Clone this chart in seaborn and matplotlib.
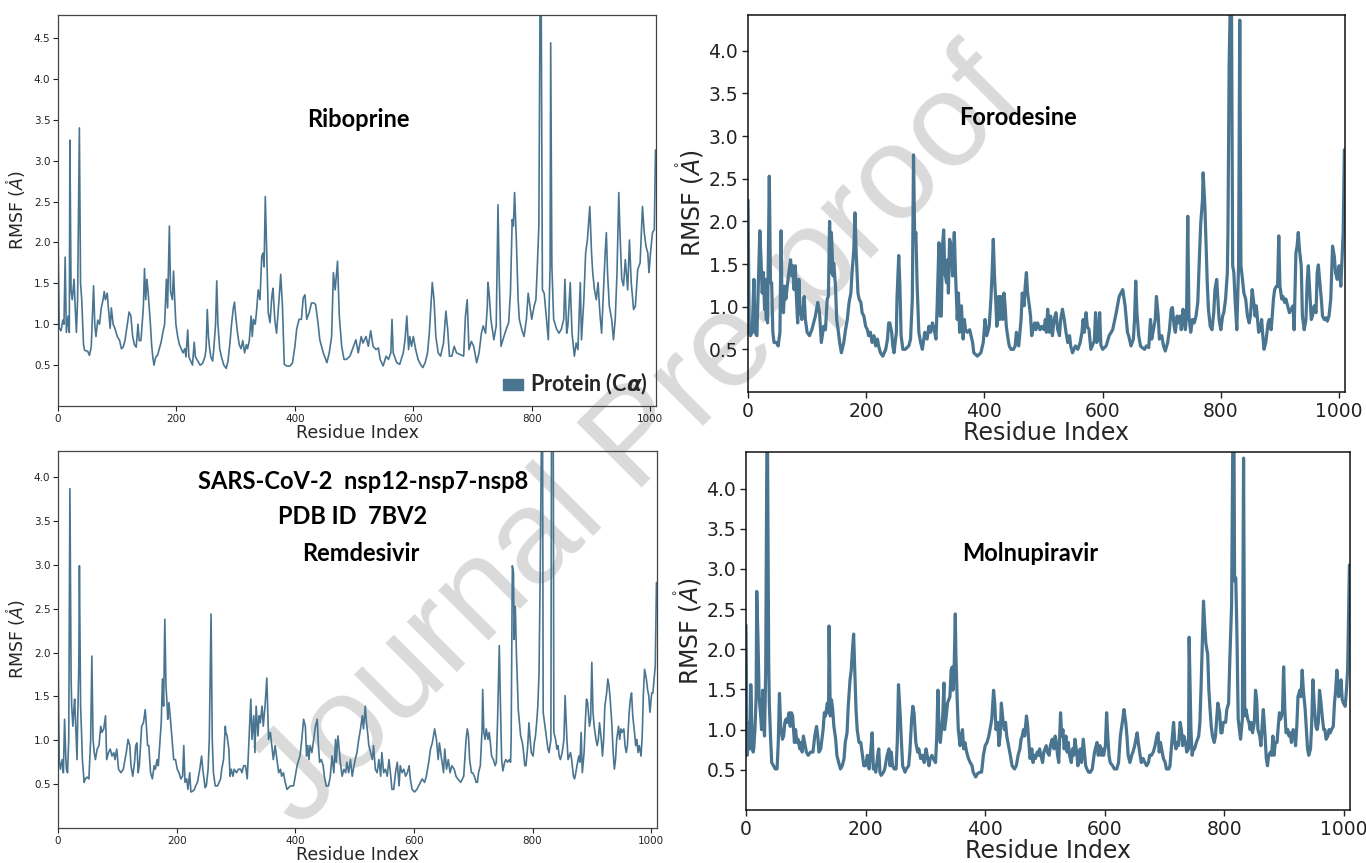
import matplotlib
matplotlib.use("Agg")
import matplotlib.pyplot as plt
import seaborn as sns
import pandas as pd
from matplotlib.patches import Patch

# Per-residue C-alpha RMSF (Angstrom) of nsp12-nsp7-nsp8 with four ligands: (residue, rmsf)
riboprine = [
    (0, 2.10), (2, 0.95), (5, 0.92), (8, 1.05), (10, 1.00), (12, 1.82), (14, 0.90), (17, 1.10),
    (19, 0.90), (20, 3.25), (22, 1.40), (24, 1.30), (27, 1.55), (29, 1.20), (31, 0.90), (33, 1.30),
    (36, 3.40), (38, 1.50), (40, 1.30), (43, 0.75), (45, 0.68), (50, 0.67), (53, 0.62), (56, 0.72),
    (60, 1.47), (62, 1.00), (64, 0.85), (67, 1.05), (70, 1.00), (73, 1.20), (76, 1.30), (78, 1.40),
    (80, 1.30), (83, 1.38), (85, 1.20), (88, 0.95), (90, 1.20), (93, 1.00), (96, 0.95), (100, 0.85),
    (104, 0.80), (107, 0.70), (110, 0.72), (113, 0.80), (116, 0.95), (120, 1.15), (123, 1.10),
    (126, 0.85), (129, 0.75), (132, 0.72), (135, 1.00), (137, 0.80), (140, 0.80), (144, 1.20),
    (146, 1.68), (148, 1.30), (150, 1.55), (152, 1.40), (154, 1.20), (156, 1.00), (158, 0.75),
    (160, 0.60), (162, 0.50), (165, 0.60), (168, 0.62), (171, 0.70), (174, 0.78), (177, 0.90),
    (180, 1.00), (183, 1.55), (185, 1.20), (188, 2.20), (190, 1.40), (193, 1.30), (195, 1.65),
    (197, 1.30), (199, 1.00), (202, 0.85), (205, 0.75), (208, 0.70), (211, 0.65), (214, 0.70),
    (216, 0.60), (219, 0.93), (221, 0.60), (224, 0.55), (227, 0.50), (230, 0.78), (232, 0.60),
    (236, 0.55), (240, 0.50), (244, 0.52), (248, 0.60), (250, 0.70), (252, 1.18), (254, 0.85),
    (256, 0.70), (258, 0.60), (261, 0.55), (263, 0.70), (266, 1.00), (268, 1.53), (270, 1.00),
    (273, 0.70), (276, 0.60), (280, 0.50), (284, 0.46), (287, 0.55), (290, 0.75), (293, 1.00),
    (296, 1.20), (298, 1.27), (300, 1.10), (303, 0.90), (306, 0.75), (309, 0.70), (312, 0.80),
    (315, 0.65), (318, 0.75), (320, 0.70), (323, 0.80), (326, 1.10), (328, 0.85), (330, 1.06),
    (333, 1.00), (335, 1.14), (338, 1.42), (341, 1.30), (344, 1.83), (346, 1.87), (348, 1.70),
    (350, 2.56), (355, 1.14), (358, 1.02), (361, 1.34), (363, 1.44), (366, 1.06), (369, 0.89),
    (374, 1.38), (376, 1.61), (379, 1.22), (382, 0.51), (386, 0.49), (392, 0.49), (396, 0.53),
    (400, 0.73), (403, 0.94), (407, 1.06), (411, 1.06), (414, 1.32), (417, 1.36), (420, 1.06),
    (424, 1.14), (428, 1.26), (432, 1.26), (435, 1.24), (439, 1.02), (442, 0.81), (448, 0.65),
    (454, 0.53), (458, 0.65), (462, 0.85), (465, 1.63), (468, 1.42), (472, 1.77), (475, 1.10),
    (479, 0.73), (483, 0.57), (487, 0.57), (493, 0.61), (499, 0.73), (503, 0.81), (507, 0.65),
    (512, 0.85), (515, 0.77), (520, 0.85), (524, 0.73), (528, 0.92), (532, 0.73), (537, 0.69),
    (541, 0.71), (544, 0.57), (549, 0.49), (554, 0.61), (558, 0.57), (562, 0.65), (564, 1.06),
    (566, 0.65), (572, 0.53), (577, 0.51), (583, 0.65), (586, 0.81), (589, 1.10), (592, 0.69),
    (594, 0.85), (597, 0.73), (600, 0.85), (604, 0.69), (608, 0.57), (612, 0.51), (616, 0.47),
    (620, 0.53), (624, 0.65), (627, 0.89), (632, 1.51), (635, 1.30), (638, 0.85), (642, 0.65),
    (646, 0.61), (651, 0.77), (655, 1.16), (658, 0.94), (661, 0.61), (665, 0.61), (669, 0.73),
    (673, 0.65), (679, 0.63), (685, 0.61), (688, 1.10), (691, 1.30), (694, 0.69), (698, 0.79),
    (702, 0.73), (707, 0.53), (711, 0.65), (715, 0.89), (718, 0.98), (722, 0.89), (725, 1.22),
    (726, 1.51), (728, 1.38), (731, 1.06), (736, 0.81), (740, 0.98), (743, 2.46), (745, 1.59),
    (748, 0.73), (753, 0.85), (757, 0.94), (761, 1.02), (764, 1.38), (767, 2.28), (769, 2.20),
    (771, 2.61), (774, 2.03), (777, 1.30), (779, 1.06), (783, 0.94), (787, 0.85), (791, 1.06),
    (794, 1.38), (797, 1.22), (800, 1.06), (804, 1.22), (807, 1.30), (809, 1.63), (812, 2.20),
    (814, 4.90), (816, 4.90), (818, 1.42), (821, 1.38), (824, 1.14), (828, 0.81), (831, 1.71),
    (832, 4.44), (834, 1.71), (837, 1.06), (842, 0.94), (846, 0.89), (850, 0.94), (854, 1.06),
    (856, 1.55), (859, 0.89), (861, 0.98), (865, 1.51), (868, 0.89), (872, 0.61), (875, 0.77),
    (878, 0.69), (882, 1.51), (884, 0.81), (888, 1.30), (891, 1.87), (894, 2.03), (898, 2.44),
    (901, 1.87), (903, 1.63), (906, 1.42), (909, 1.30), (912, 1.51), (915, 1.14), (918, 0.89),
    (921, 1.38), (924, 1.87), (926, 2.12), (928, 1.63), (931, 1.22), (935, 1.06), (938, 0.81),
    (941, 1.06), (944, 1.63), (947, 2.61), (949, 2.12), (952, 1.55), (955, 1.47), (958, 1.79),
    (962, 1.42), (965, 2.03), (968, 1.51), (972, 1.18), (975, 1.22), (979, 1.67), (983, 1.75),
    (987, 2.44), (990, 2.12), (993, 1.95), (996, 1.87), (998, 1.63), (1001, 1.91), (1004, 2.12),
    (1007, 2.16), (1009, 3.13),
]

forodesine = [
    (0, 2.25), (2, 0.70), (4, 0.66), (7, 0.70), (10, 1.32), (12, 0.70), (15, 0.66), (17, 1.16),
    (20, 1.89), (22, 1.55), (24, 1.16), (26, 1.40), (28, 0.97), (29, 1.32), (31, 0.85), (32, 1.32),
    (33, 0.81), (36, 2.53), (38, 1.28), (40, 1.28), (42, 0.70), (44, 0.58), (48, 0.58), (51, 0.54),
    (54, 0.70), (56, 1.89), (57, 1.28), (60, 0.93), (62, 1.24), (64, 1.09), (67, 1.28), (69, 1.40),
    (72, 1.55), (74, 1.36), (76, 1.48), (78, 1.20), (80, 1.48), (82, 1.09), (84, 0.81), (86, 1.32),
    (88, 1.01), (91, 0.85), (93, 0.93), (95, 1.12), (97, 0.85), (100, 0.70), (104, 0.66), (108, 0.73),
    (114, 0.89), (118, 1.05), (121, 0.93), (124, 0.58), (128, 0.77), (131, 0.73), (134, 1.09),
    (136, 1.12), (138, 2.00), (140, 1.40), (141, 1.87), (144, 1.36), (145, 1.51), (148, 1.24),
    (150, 0.85), (153, 0.70), (155, 0.58), (158, 0.46), (162, 0.58), (165, 0.73), (168, 0.85),
    (171, 1.05), (174, 1.16), (176, 1.40), (179, 1.67), (181, 2.10), (183, 1.63), (186, 1.16),
    (188, 1.09), (191, 1.05), (193, 0.93), (196, 0.89), (199, 0.77), (202, 0.73), (204, 0.66),
    (207, 0.70), (210, 0.58), (213, 0.66), (216, 0.54), (219, 0.62), (221, 0.54), (224, 0.46),
    (228, 0.42), (233, 0.50), (236, 0.62), (238, 0.81), (240, 0.81), (243, 0.70), (245, 0.54),
    (247, 0.46), (251, 0.70), (252, 1.09), (255, 1.60), (257, 1.24), (259, 0.66), (262, 0.50),
    (266, 0.50), (272, 0.54), (275, 0.62), (278, 1.09), (280, 2.78), (282, 1.79), (284, 1.87),
    (286, 1.28), (289, 0.70), (292, 0.58), (295, 0.50), (299, 0.70), (303, 0.62), (306, 0.77),
    (309, 0.70), (312, 0.81), (315, 0.73), (318, 0.62), (320, 1.01), (323, 1.75), (325, 0.89),
    (327, 0.89), (329, 1.71), (331, 1.90), (333, 1.40), (336, 1.28), (338, 1.55), (339, 1.16),
    (341, 1.79), (344, 1.71), (346, 1.36), (349, 1.87), (351, 1.40), (354, 0.85), (356, 1.16),
    (358, 0.70), (361, 1.01), (364, 0.62), (366, 0.85), (368, 0.73), (371, 0.70), (375, 0.73),
    (380, 0.58), (382, 0.46), (388, 0.42), (394, 0.46), (398, 0.58), (401, 0.85), (404, 0.66),
    (408, 0.77), (411, 1.09), (413, 1.40), (415, 1.79), (417, 1.36), (419, 1.09), (421, 0.77),
    (424, 1.12), (426, 0.85), (428, 1.12), (431, 0.85), (433, 1.16), (435, 1.01), (437, 0.77),
    (440, 0.62), (442, 0.54), (445, 0.50), (449, 0.50), (452, 0.54), (454, 0.70), (458, 0.54),
    (462, 0.85), (464, 1.16), (467, 1.01), (469, 1.24), (471, 1.40), (473, 1.16), (476, 1.01),
    (478, 0.89), (480, 0.66), (482, 0.73), (485, 0.81), (487, 0.73), (490, 0.81), (494, 0.73),
    (497, 0.77), (501, 0.73), (503, 0.85), (505, 0.70), (507, 0.97), (510, 0.70), (512, 0.89),
    (515, 0.66), (518, 0.85), (521, 0.93), (524, 0.73), (527, 0.66), (529, 0.85), (532, 0.97),
    (535, 0.85), (538, 0.70), (541, 0.58), (544, 0.66), (546, 0.54), (549, 0.46), (554, 0.54),
    (558, 0.50), (562, 0.58), (565, 0.70), (567, 0.85), (569, 0.70), (572, 0.93), (574, 0.77),
    (577, 0.73), (580, 0.50), (583, 0.55), (586, 0.60), (588, 0.93), (590, 0.58), (592, 0.62),
    (595, 0.93), (597, 0.55), (600, 0.50), (606, 0.54), (611, 0.66), (617, 0.73), (623, 0.93),
    (628, 1.12), (634, 1.20), (638, 1.01), (642, 0.70), (644, 0.66), (648, 0.54), (652, 0.62),
    (654, 0.85), (656, 1.30), (658, 0.93), (661, 0.66), (664, 0.54), (667, 0.52), (671, 0.50),
    (674, 0.54), (678, 0.52), (681, 0.85), (683, 0.62), (686, 0.73), (689, 0.85), (691, 1.12),
    (694, 0.89), (696, 0.62), (700, 0.66), (703, 0.54), (706, 0.48), (710, 0.58), (713, 0.73),
    (716, 0.97), (718, 0.99), (721, 0.77), (723, 0.70), (726, 0.89), (728, 0.81), (731, 0.89),
    (733, 0.73), (736, 0.97), (738, 0.81), (740, 0.73), (742, 0.91), (744, 2.06), (746, 0.89),
    (749, 0.70), (752, 0.85), (755, 0.81), (758, 0.89), (761, 1.05), (764, 1.63), (766, 1.98),
    (769, 2.26), (770, 2.57), (773, 2.18), (775, 1.71), (777, 1.28), (779, 0.97), (782, 0.77),
    (785, 0.73), (788, 0.93), (790, 1.20), (793, 1.32), (795, 1.09), (797, 0.85), (800, 0.73),
    (803, 0.89), (805, 0.93), (808, 1.09), (811, 1.40), (812, 1.87), (814, 3.82), (816, 4.60),
    (818, 4.60), (820, 1.48), (822, 1.40), (824, 1.09), (827, 0.73), (830, 1.48), (832, 4.36),
    (834, 1.48), (836, 1.36), (839, 1.16), (842, 1.09), (845, 0.89), (848, 0.81), (850, 0.89),
    (853, 1.20), (855, 1.09), (858, 0.89), (860, 1.01), (862, 0.85), (864, 0.70), (867, 0.73),
    (869, 0.85), (871, 0.66), (873, 0.50), (876, 0.58), (878, 0.70), (880, 0.81), (882, 0.85),
    (885, 0.73), (887, 0.89), (889, 1.09), (891, 1.20), (894, 1.24), (896, 1.24), (898, 1.83),
    (900, 1.24), (903, 1.09), (905, 1.12), (908, 1.05), (910, 1.09), (913, 1.01), (916, 0.93),
    (919, 0.97), (922, 1.01), (924, 0.73), (927, 1.63), (929, 1.71), (931, 1.87), (933, 1.67),
    (936, 1.48), (938, 0.89), (941, 0.73), (944, 0.85), (946, 1.28), (948, 1.48), (951, 1.09),
    (953, 0.85), (955, 0.89), (958, 1.01), (961, 0.93), (963, 1.40), (965, 1.49), (968, 1.24),
    (970, 1.09), (972, 0.89), (975, 0.85), (978, 0.87), (980, 0.83), (983, 0.89), (986, 1.09),
    (989, 1.71), (992, 1.59), (994, 1.40), (997, 1.32), (1000, 1.48), (1003, 1.24), (1004, 1.40),
    (1007, 1.87), (1009, 2.84),
]

remdesivir = [
    (0, 2.00), (2, 0.78), (4, 0.67), (7, 0.78), (9, 0.63), (11, 1.24), (13, 0.82), (14, 0.67),
    (16, 0.63), (18, 1.01), (20, 3.87), (22, 1.70), (23, 1.39), (25, 1.16), (27, 1.39), (28, 1.47),
    (30, 1.13), (32, 0.78), (33, 1.20), (35, 1.85), (36, 2.99), (38, 1.39), (40, 1.01), (41, 0.78),
    (44, 0.52), (46, 0.56), (49, 0.58), (52, 0.56), (55, 1.01), (57, 1.96), (59, 1.01), (61, 0.86),
    (63, 0.78), (66, 0.90), (69, 0.94), (72, 1.16), (74, 1.09), (77, 1.13), (80, 1.28), (82, 0.78),
    (85, 0.86), (88, 0.90), (91, 0.82), (94, 0.86), (96, 0.78), (99, 0.90), (102, 0.67), (106, 0.63),
    (110, 0.67), (115, 0.86), (118, 1.01), (121, 0.94), (123, 0.71), (126, 0.59), (129, 0.75),
    (131, 0.94), (133, 0.97), (135, 0.63), (137, 0.71), (139, 0.94), (141, 1.16), (144, 1.20),
    (147, 1.35), (149, 1.16), (151, 0.94), (153, 0.94), (156, 0.63), (159, 0.56), (162, 0.71),
    (164, 0.67), (167, 0.78), (169, 0.71), (172, 1.01), (174, 1.20), (176, 1.70), (178, 1.39),
    (180, 2.38), (182, 1.62), (184, 1.39), (185, 1.24), (187, 1.43), (190, 1.20), (193, 0.94),
    (195, 0.78), (198, 0.78), (201, 0.67), (204, 0.63), (207, 0.56), (210, 0.59), (212, 0.94),
    (214, 0.52), (217, 0.56), (219, 0.44), (222, 0.63), (224, 0.41), (227, 0.42), (230, 0.44),
    (232, 0.48), (235, 0.52), (239, 0.67), (242, 0.82), (244, 0.67), (248, 0.46), (250, 0.48),
    (253, 0.67), (255, 1.01), (258, 2.44), (260, 1.01), (262, 0.63), (265, 0.48), (269, 0.48),
    (274, 0.56), (276, 0.67), (279, 0.78), (282, 1.16), (283, 1.09), (285, 1.05), (288, 0.90),
    (290, 0.59), (292, 0.67), (295, 0.59), (297, 0.67), (301, 0.63), (304, 0.67), (308, 0.67),
    (310, 0.63), (313, 0.71), (316, 0.71), (319, 0.56), (322, 1.01), (325, 1.47), (327, 1.01),
    (330, 1.28), (332, 0.86), (334, 1.39), (337, 1.05), (339, 1.28), (341, 1.20), (344, 1.39),
    (346, 1.16), (349, 1.39), (352, 1.71), (355, 1.01), (358, 1.09), (361, 0.90), (363, 0.78),
    (366, 0.94), (369, 0.78), (372, 0.63), (375, 0.67), (377, 0.59), (380, 0.63), (383, 0.52),
    (386, 0.44), (392, 0.48), (397, 0.48), (400, 0.59), (403, 0.71), (406, 0.78), (408, 0.82),
    (411, 1.01), (414, 1.24), (417, 1.16), (419, 0.82), (421, 0.94), (423, 0.78), (425, 0.94),
    (428, 0.86), (431, 1.01), (434, 1.16), (437, 1.24), (439, 0.94), (441, 0.75), (444, 0.78),
    (447, 0.71), (449, 0.59), (452, 0.48), (456, 0.48), (459, 0.59), (462, 0.82), (465, 0.63),
    (468, 1.01), (469, 0.75), (472, 1.05), (474, 0.90), (476, 0.75), (479, 0.59), (482, 0.67),
    (485, 0.63), (487, 0.75), (490, 0.63), (493, 0.78), (496, 0.59), (499, 0.71), (501, 0.78),
    (504, 0.86), (507, 1.01), (510, 1.13), (513, 1.28), (515, 1.13), (518, 1.39), (520, 1.20),
    (522, 1.09), (524, 0.94), (527, 0.86), (530, 0.78), (532, 0.94), (535, 0.67), (538, 0.63),
    (541, 0.78), (544, 0.59), (546, 0.86), (549, 0.63), (552, 0.67), (555, 0.59), (558, 0.78),
    (561, 0.59), (563, 0.44), (566, 0.44), (569, 0.63), (572, 0.75), (575, 0.48), (577, 0.71),
    (580, 0.63), (583, 0.67), (586, 0.59), (589, 0.63), (592, 0.71), (594, 0.56), (597, 0.44),
    (601, 0.41), (605, 0.44), (608, 0.48), (611, 0.52), (614, 0.56), (618, 0.52), (621, 0.59),
    (625, 0.75), (628, 0.90), (631, 0.97), (635, 1.13), (638, 1.01), (641, 0.78), (643, 0.97),
    (646, 0.82), (650, 0.63), (652, 0.90), (655, 0.67), (658, 0.78), (661, 0.63), (664, 0.71),
    (668, 0.67), (671, 0.59), (674, 0.56), (679, 0.52), (684, 0.59), (688, 1.01), (690, 1.13),
    (692, 1.05), (694, 0.78), (697, 0.63), (699, 0.63), (702, 0.59), (705, 0.52), (707, 0.52),
    (709, 0.63), (712, 0.71), (715, 1.13), (716, 1.58), (718, 1.09), (720, 1.01), (722, 1.13),
    (725, 1.01), (727, 1.09), (729, 0.97), (731, 0.82), (734, 0.78), (737, 0.71), (739, 0.75),
    (741, 1.20), (744, 2.08), (746, 1.39), (748, 0.78), (750, 0.65), (753, 0.75), (755, 0.78),
    (758, 0.75), (761, 0.78), (763, 0.75), (764, 1.01), (766, 2.99), (768, 2.91), (769, 2.15),
    (771, 2.53), (773, 1.96), (774, 1.77), (776, 1.35), (778, 1.20), (780, 1.05), (783, 0.97),
    (785, 0.86), (787, 0.71), (789, 0.71), (792, 0.94), (794, 1.20), (796, 1.01), (798, 0.86),
    (801, 0.82), (803, 0.97), (805, 1.05), (807, 1.20), (809, 1.39), (811, 1.77), (813, 2.91),
    (815, 4.40), (817, 4.40), (818, 1.32), (821, 1.16), (824, 1.01), (826, 0.90), (828, 0.86),
    (831, 1.01), (832, 4.40), (835, 4.40), (836, 1.09), (839, 1.01), (841, 0.90), (843, 0.94),
    (845, 0.82), (847, 0.78), (850, 0.86), (853, 1.01), (855, 1.51), (858, 1.01), (860, 0.78),
    (862, 0.82), (864, 0.86), (866, 0.78), (869, 0.59), (871, 0.56), (873, 0.63), (875, 0.71),
    (878, 0.82), (880, 0.75), (882, 1.09), (884, 0.63), (887, 0.86), (889, 1.20), (891, 1.47),
    (893, 1.43), (896, 1.16), (898, 1.24), (900, 1.89), (902, 1.32), (904, 1.16), (907, 1.01),
    (909, 0.94), (911, 1.01), (913, 1.20), (916, 1.01), (918, 0.82), (920, 1.01), (922, 1.39),
    (925, 1.54), (927, 1.70), (929, 1.62), (931, 1.47), (934, 1.16), (936, 0.86), (938, 0.67),
    (940, 0.78), (942, 1.01), (945, 1.16), (947, 1.01), (949, 1.13), (951, 1.09), (954, 1.13),
    (956, 0.94), (958, 0.86), (960, 0.94), (963, 1.32), (965, 1.47), (967, 1.54), (969, 1.28),
    (972, 1.09), (974, 0.94), (976, 1.01), (978, 0.86), (980, 0.94), (983, 0.82), (985, 1.05),
    (987, 1.54), (989, 1.81), (992, 1.70), (994, 1.58), (996, 1.51), (998, 1.32), (1001, 1.54),
    (1003, 1.54), (1005, 1.70), (1007, 1.85), (1009, 2.80),
]

molnupiravir = [
    (0, 2.30), (2, 0.68), (3, 0.76), (5, 1.09), (7, 0.76), (8, 1.56), (10, 0.92), (12, 0.72),
    (13, 0.76), (15, 1.00), (17, 1.41), (18, 2.72), (20, 2.15), (22, 1.41), (25, 1.13), (26, 1.00),
    (28, 1.49), (30, 1.04), (31, 0.92), (33, 1.74), (35, 4.60), (36, 4.60), (38, 1.82), (39, 1.33),
    (41, 0.92), (43, 0.59), (46, 0.55), (49, 0.51), (52, 0.51), (54, 0.84), (56, 1.45), (58, 1.04),
    (61, 0.88), (63, 0.92), (65, 1.09), (67, 1.13), (69, 1.09), (72, 1.21), (74, 1.04), (76, 1.21),
    (78, 1.17), (81, 0.84), (83, 1.00), (85, 0.84), (87, 0.88), (90, 0.76), (92, 0.84), (94, 0.72),
    (96, 0.92), (99, 0.80), (101, 0.72), (104, 0.68), (108, 0.72), (112, 0.72), (115, 0.92),
    (118, 1.04), (120, 0.92), (122, 0.72), (125, 0.76), (129, 1.00), (131, 1.21), (133, 1.17),
    (136, 1.33), (138, 1.21), (139, 2.29), (141, 1.17), (143, 1.37), (145, 1.25), (147, 1.04),
    (150, 0.88), (152, 0.68), (155, 0.59), (158, 0.51), (161, 0.55), (164, 0.64), (166, 0.84),
    (169, 0.96), (171, 1.29), (174, 1.62), (176, 1.74), (178, 1.99), (180, 2.19), (182, 1.74),
    (184, 1.25), (186, 1.00), (189, 0.84), (192, 0.84), (194, 0.72), (197, 0.55), (200, 0.55),
    (203, 0.68), (206, 0.51), (208, 0.68), (211, 0.96), (213, 0.51), (215, 0.55), (217, 0.47),
    (221, 0.72), (222, 0.76), (224, 0.47), (226, 0.43), (230, 0.47), (232, 0.51), (236, 0.68),
    (239, 0.76), (241, 0.55), (243, 0.72), (245, 0.55), (248, 0.51), (251, 0.51), (253, 0.84),
    (255, 1.56), (258, 1.17), (260, 0.84), (262, 0.55), (266, 0.47), (268, 0.51), (272, 0.55),
    (274, 0.72), (277, 1.13), (279, 1.29), (281, 1.21), (284, 0.84), (287, 0.72), (289, 0.76),
    (292, 0.64), (295, 0.68), (298, 0.59), (301, 0.76), (303, 0.68), (306, 0.55), (308, 0.64),
    (311, 0.68), (313, 0.64), (317, 0.59), (319, 0.92), (321, 1.49), (323, 0.92), (325, 0.84),
    (327, 1.00), (329, 1.17), (331, 1.58), (332, 1.00), (335, 1.17), (337, 1.33), (339, 1.37),
    (341, 1.41), (343, 1.74), (345, 1.78), (346, 1.49), (348, 1.74), (350, 2.44), (351, 1.94),
    (353, 1.41), (355, 1.00), (358, 0.80), (360, 0.92), (362, 1.00), (364, 0.76), (366, 0.84),
    (369, 0.72), (372, 0.64), (375, 0.59), (378, 0.55), (380, 0.47), (384, 0.41), (387, 0.45),
    (391, 0.47), (394, 0.47), (397, 0.68), (400, 0.80), (403, 0.84), (406, 0.92), (408, 1.00),
    (411, 1.13), (414, 1.49), (416, 1.33), (418, 1.00), (421, 1.09), (423, 0.80), (425, 0.92),
    (427, 1.33), (430, 1.09), (432, 1.00), (434, 1.09), (436, 0.92), (439, 0.80), (442, 0.68),
    (445, 0.55), (449, 0.51), (452, 0.55), (455, 0.68), (458, 0.76), (460, 0.88), (462, 0.92),
    (464, 1.00), (466, 0.92), (469, 1.17), (471, 1.04), (473, 0.84), (475, 0.64), (478, 0.76),
    (480, 0.59), (482, 0.68), (484, 0.64), (487, 0.72), (489, 0.68), (491, 0.76), (493, 0.68),
    (496, 0.59), (498, 0.72), (500, 0.76), (502, 0.80), (504, 0.72), (507, 0.68), (509, 0.80),
    (512, 0.88), (515, 0.76), (517, 0.92), (519, 0.84), (521, 0.68), (523, 0.59), (526, 1.21),
    (528, 0.92), (530, 1.00), (532, 0.76), (535, 0.92), (537, 0.72), (539, 0.84), (541, 0.68),
    (544, 0.59), (546, 0.76), (548, 0.68), (550, 0.88), (553, 0.72), (555, 0.55), (557, 0.68),
    (559, 0.76), (561, 0.59), (564, 0.88), (566, 0.72), (568, 0.55), (570, 0.51), (573, 0.47),
    (576, 0.47), (579, 0.51), (582, 0.68), (584, 0.76), (587, 0.84), (589, 0.68), (592, 0.80),
    (594, 0.68), (596, 0.76), (598, 0.68), (601, 0.80), (603, 1.21), (605, 0.92), (607, 0.68),
    (609, 0.59), (613, 0.55), (616, 0.51), (620, 0.51), (623, 0.59), (626, 0.92), (630, 1.13),
    (632, 1.25), (635, 1.09), (637, 0.92), (639, 0.68), (642, 0.59), (645, 0.68), (647, 0.72),
    (650, 0.80), (654, 0.96), (656, 0.84), (659, 0.68), (661, 0.59), (664, 0.64), (667, 0.59),
    (670, 0.55), (673, 0.59), (675, 0.68), (678, 0.68), (681, 0.72), (684, 0.80), (687, 0.92),
    (689, 0.96), (691, 0.72), (693, 0.84), (696, 0.72), (698, 0.64), (701, 0.59), (703, 0.51),
    (707, 0.51), (709, 0.55), (712, 0.84), (715, 1.09), (717, 0.84), (719, 0.76), (721, 0.84),
    (723, 0.80), (726, 1.09), (728, 1.00), (730, 0.80), (732, 0.92), (735, 0.84), (737, 0.72),
    (740, 0.76), (741, 2.15), (744, 1.00), (746, 0.68), (748, 0.76), (750, 0.76), (753, 0.84),
    (755, 0.88), (757, 0.92), (759, 1.09), (761, 1.54), (764, 2.31), (765, 2.60), (767, 2.31),
    (769, 2.07), (772, 1.94), (774, 1.49), (776, 1.25), (778, 1.04), (780, 0.92), (783, 0.84),
    (785, 0.92), (787, 1.13), (789, 1.33), (792, 1.21), (794, 0.96), (796, 0.96), (798, 1.09),
    (802, 1.09), (804, 1.25), (807, 1.33), (809, 1.86), (812, 2.56), (814, 4.60), (816, 4.60),
    (817, 2.85), (819, 2.89), (821, 2.15), (823, 1.13), (825, 1.00), (827, 0.88), (830, 1.13),
    (832, 4.38), (834, 1.17), (836, 1.25), (839, 1.13), (841, 1.09), (843, 1.00), (845, 1.09),
    (847, 0.96), (850, 1.09), (852, 1.49), (854, 1.37), (856, 1.00), (859, 0.92), (861, 0.80),
    (863, 1.04), (865, 1.25), (868, 0.92), (870, 0.64), (872, 0.55), (874, 0.68), (877, 0.72),
    (879, 0.68), (881, 0.92), (883, 0.68), (885, 0.84), (888, 0.84), (890, 1.04), (892, 1.21),
    (894, 1.13), (897, 1.21), (899, 1.78), (901, 1.25), (903, 0.96), (906, 1.00), (908, 0.92),
    (910, 0.96), (912, 0.84), (915, 1.00), (917, 0.92), (919, 0.80), (921, 1.04), (923, 1.41),
    (926, 1.49), (928, 1.41), (930, 1.74), (932, 1.49), (935, 1.25), (937, 1.00), (939, 0.76),
    (941, 0.68), (944, 0.76), (946, 1.09), (948, 1.62), (950, 1.33), (953, 1.04), (955, 1.00),
    (957, 1.09), (959, 1.49), (961, 1.37), (964, 1.13), (966, 1.00), (968, 1.00), (970, 0.88),
    (973, 0.92), (975, 1.00), (977, 0.96), (979, 1.00), (982, 1.04), (984, 1.33), (986, 1.49),
    (988, 1.74), (991, 1.41), (993, 1.49), (995, 1.62), (997, 1.37), (999, 1.33), (1002, 1.29),
    (1004, 1.49), (1006, 1.74), (1009, 3.05),
]

x_ticks = [0, 200, 400, 600, 800, 1000]
LINE_COLOR = "#4a7591"
TITLE_FONT = ["Lato", "DejaVu Sans"]

sns.set_theme(style="ticks")
plt.rcParams["font.family"] = ["DejaVu Sans"]
plt.rcParams["mathtext.fontset"] = "dejavusans"

fig = plt.figure(figsize=(13.66, 8.63), dpi=100)
fig.patch.set_facecolor("white")

# "Journal Pre-proof" watermark sits behind the transparent axes
fig.text(0.468, 0.488, "Journal Pre-proof", rotation=45, ha="center", va="center",
         fontsize=96, color="#dadada", family=["Liberation Sans", "DejaVu Sans"],
         zorder=-5)


def rmsf_panel(rect, pairs, ytop, yticks, small):
    ax = fig.add_axes(rect)
    ax.patch.set_alpha(0)
    df = pd.DataFrame(pairs, columns=["Residue Index", "RMSF"])
    sns.lineplot(data=df, x="Residue Index", y="RMSF", ax=ax, color=LINE_COLOR,
                 linewidth=1.2 if small else 2.3, estimator=None, sort=False)
    ax.set_xlim(0, 1010)
    ax.set_ylim(0, ytop)
    ax.set_xticks(x_ticks)
    ax.set_yticks(yticks)
    if small:
        tick_size, label_size, spine_c, spine_w = 7.5, 12.5, "#444444", 0.9
    else:
        tick_size, label_size, spine_c, spine_w = 13.5, 17, "#111111", 1.1
    ax.tick_params(labelsize=tick_size, length=3.5 if small else 4.5,
                   width=0.8 if small else 1.0, colors="#222222", pad=2 if small else 2.5)
    for s in ax.spines.values():
        s.set_color(spine_c)
        s.set_linewidth(spine_w)
    ax.set_xlabel("Residue Index", fontsize=label_size, labelpad=0)
    ax.set_ylabel(r"RMSF ($\mathring{A}$)", fontsize=label_size, labelpad=4 if small else 2)
    return ax


y_ticks_45 = [0.5, 1.0, 1.5, 2.0, 2.5, 3.0, 3.5, 4.0, 4.5]
y_ticks_40 = [0.5, 1.0, 1.5, 2.0, 2.5, 3.0, 3.5, 4.0]

ax1 = rmsf_panel([0.0425, 0.5295, 0.4378, 0.4531], riboprine, 4.78, y_ticks_45, True)
ax2 = rmsf_panel([0.5476, 0.5458, 0.4370, 0.4368], forodesine, 4.42, y_ticks_40, False)
ax3 = rmsf_panel([0.0425, 0.0406, 0.4385, 0.4368], remdesivir, 4.30, y_ticks_40, True)
ax4 = rmsf_panel([0.5461, 0.0615, 0.4422, 0.4151], molnupiravir, 4.46, y_ticks_40, False)

title_kw = dict(ha="center", va="center", fontsize=17, fontweight="bold",
                family=TITLE_FONT, color="black")
ax1.text(0.503, 0.734, "Riboprine", transform=ax1.transAxes, **title_kw)
ax2.text(0.452, 0.727, "Forodesine", transform=ax2.transAxes, **title_kw)
ax3.text(0.509, 0.918, "SARS-CoV-2  nsp12-nsp7-nsp8", transform=ax3.transAxes, **title_kw)
ax3.text(0.492, 0.825, "PDB ID  7BV2", transform=ax3.transAxes, **title_kw)
ax3.text(0.506, 0.729, "Remdesivir", transform=ax3.transAxes, **title_kw)
ax4.text(0.470, 0.717, "Molnupiravir", transform=ax4.transAxes, **title_kw)

ax1.legend(handles=[Patch(facecolor=LINE_COLOR, edgecolor=LINE_COLOR)],
           labels=[r"Protein (C$\mathbfit{\alpha}$)"], loc="lower right",
           frameon=False, handlelength=0.95, handleheight=0.42, handletextpad=0.3,
           borderaxespad=0.2, borderpad=0.2,
           prop=dict(family=TITLE_FONT, weight="bold", size=15.5))

fig.savefig("out.png", dpi=100)
